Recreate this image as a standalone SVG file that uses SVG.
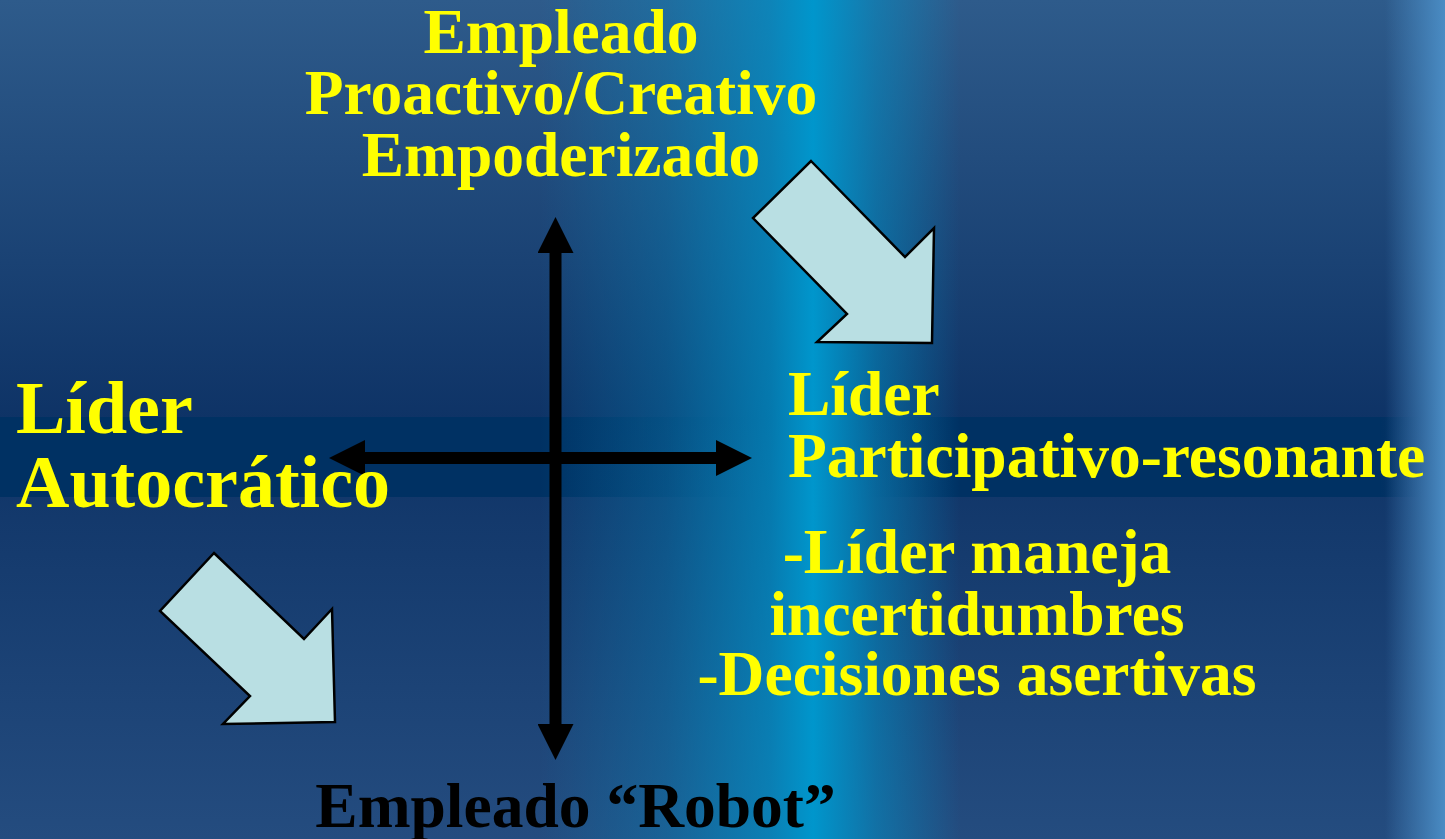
<svg xmlns="http://www.w3.org/2000/svg" width="1445" height="839" viewBox="0 0 1445 839">
<defs>
<linearGradient id="bgV" x1="0" y1="0" x2="0" y2="1">
<stop offset="0" stop-color="#2e5b8b"/>
<stop offset="0.5" stop-color="#0e3366"/>
<stop offset="1" stop-color="#244c7f"/>
</linearGradient>
<linearGradient id="cyan" gradientUnits="userSpaceOnUse" x1="540" y1="0" x2="960" y2="0">
<stop offset="0" stop-color="#0096cc" stop-opacity="0"/>
<stop offset="0.3" stop-color="#0096cc" stop-opacity="0.3"/>
<stop offset="0.55" stop-color="#0096cc" stop-opacity="0.7"/>
<stop offset="0.65" stop-color="#0096cc" stop-opacity="1"/>
<stop offset="0.8" stop-color="#0096cc" stop-opacity="0.5"/>
<stop offset="1" stop-color="#0096cc" stop-opacity="0"/>
</linearGradient>
<linearGradient id="band" gradientUnits="userSpaceOnUse" x1="0" y1="0" x2="1445" y2="0">
<stop offset="0" stop-color="#003163" stop-opacity="1"/>
<stop offset="0.39" stop-color="#003163" stop-opacity="1"/>
<stop offset="0.52" stop-color="#003163" stop-opacity="0"/>
<stop offset="0.6" stop-color="#003163" stop-opacity="0"/>
<stop offset="0.66" stop-color="#003163" stop-opacity="1"/>
<stop offset="0.955" stop-color="#003163" stop-opacity="1"/>
<stop offset="0.985" stop-color="#003163" stop-opacity="0"/>
</linearGradient>
<linearGradient id="edge" gradientUnits="userSpaceOnUse" x1="1385" y1="0" x2="1445" y2="0">
<stop offset="0" stop-color="#4a8cc4" stop-opacity="0"/>
<stop offset="1" stop-color="#4a8cc4" stop-opacity="1"/>
</linearGradient>
<marker id="ah" viewBox="0 0 36 36" refX="0" refY="18" markerWidth="36" markerHeight="36" markerUnits="userSpaceOnUse" orient="auto">
<path d="M0,0 L36,18 L0,36 Z" fill="#000"/>
</marker>
</defs>
<style>
.y{fill:#ffff00;font-family:"Liberation Serif","Times New Roman",serif;font-weight:bold;font-size:63.5px}
.k{fill:#000;font-family:"Liberation Serif","Times New Roman",serif;font-weight:bold;font-size:63.5px}
.blk{fill:#b9dfe3;stroke:#000;stroke-width:2.5;stroke-linejoin:miter}
.ax{stroke:#000;stroke-width:12;fill:none}
</style>
<rect width="1445" height="839" fill="url(#bgV)"/>
<rect x="0" y="417" width="1445" height="80" fill="url(#band)"/>
<rect x="540" y="0" width="420" height="839" fill="url(#cyan)"/>
<rect x="1385" y="0" width="60" height="839" fill="url(#edge)"/>

<g id="connectors">
<line class="ax" x1="555.5" y1="458" x2="555.5" y2="253" marker-end="url(#ah)"/>
<line class="ax" x1="555.5" y1="458" x2="555.5" y2="724" marker-end="url(#ah)"/>
<line class="ax" x1="555.5" y1="458" x2="365" y2="458" marker-end="url(#ah)"/>
<line class="ax" x1="555.5" y1="458" x2="716" y2="458" marker-end="url(#ah)"/>
</g>

<g id="arrow-top-right">
<polygon class="blk" points="811,161 905,257 934,228 932,343 817,342 847,314 753,218"/>
</g>
<g id="arrow-bottom-left">
<polygon class="blk" points="214,553 304,639 332,609 335,722 223,724 250,696 160,611"/>
</g>

<g id="empleado-proactivo">
<text class="y" text-anchor="middle" x="561" y="53">Empleado</text>
<text class="y" text-anchor="middle" x="561" y="114">Proactivo/Creativo</text>
<text class="y" text-anchor="middle" x="561" y="176">Empoderizado</text>
</g>

<g id="lider-autocratico">
<text class="y" x="16" y="433" style="font-size:74px">Líder</text>
<text class="y" x="16" y="507" style="font-size:74px">Autocrático</text>
</g>

<g id="lider-participativo">
<text class="y" x="788" y="415">Líder</text>
<text class="y" x="788" y="477">Participativo-resonante</text>
</g>

<g id="notas">
<text class="y" text-anchor="middle" x="977" y="573">-Líder maneja</text>
<text class="y" text-anchor="middle" x="977" y="635">incertidumbres</text>
<text class="y" text-anchor="middle" x="977" y="695">-Decisiones asertivas</text>
</g>

<g id="empleado-robot">
<text class="k" text-anchor="middle" x="575.5" y="827">Empleado “Robot”</text>
</g>
</svg>
